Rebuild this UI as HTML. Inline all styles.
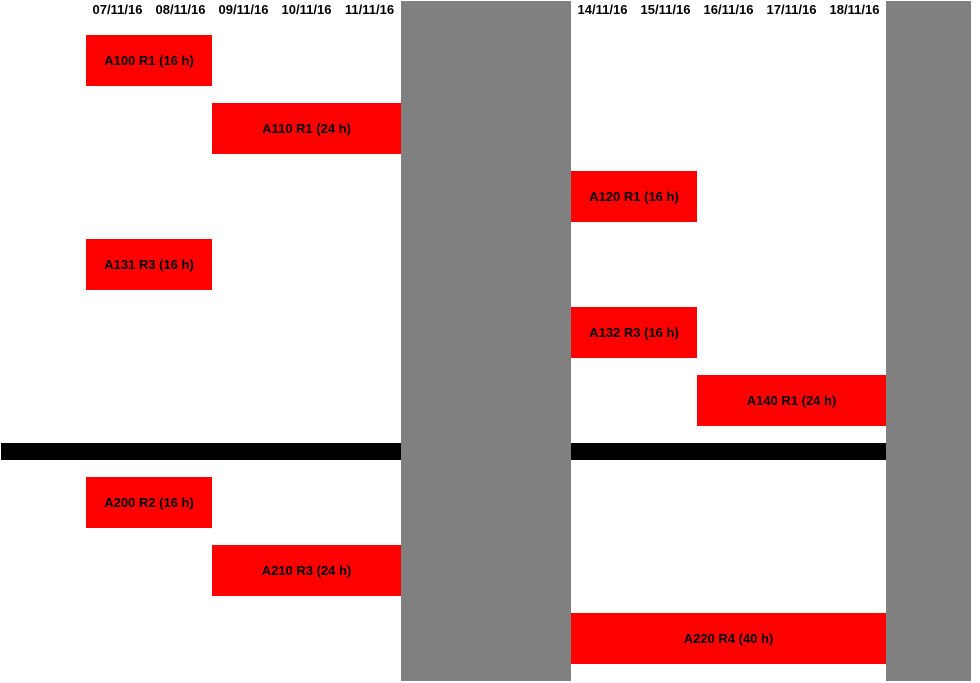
<!DOCTYPE html>
<html><head><style>
body{margin:0;width:980px;height:683px;background:#fff;position:relative;overflow:hidden;font-family:"Liberation Sans",Arial,sans-serif;font-weight:bold;font-size:13px;color:#000}
div{position:absolute}
.g{background:#808080;top:1px;height:680px}
.r{background:#f00;height:51px;display:flex;align-items:center;justify-content:center}
.b{background:#000;top:443px;height:17px}
.d{top:2px;width:63px;text-align:center}
</style></head><body>
<div class="g" style="left:401px;width:170px"></div>
<div class="g" style="left:886px;width:85px"></div>
<div class="b" style="left:1px;width:400px"></div>
<div class="b" style="left:571px;width:315px"></div>
<div class="d" style="left:86px">07/11/16</div>
<div class="d" style="left:149px">08/11/16</div>
<div class="d" style="left:212px">09/11/16</div>
<div class="d" style="left:275px">10/11/16</div>
<div class="d" style="left:338px">11/11/16</div>
<div class="d" style="left:571px">14/11/16</div>
<div class="d" style="left:634px">15/11/16</div>
<div class="d" style="left:697px">16/11/16</div>
<div class="d" style="left:760px">17/11/16</div>
<div class="d" style="left:823px">18/11/16</div>
<div class="r" style="left:86px;top:35px;width:126px">A100 R1 (16 h)</div>
<div class="r" style="left:212px;top:103px;width:189px">A110 R1 (24 h)</div>
<div class="r" style="left:571px;top:171px;width:126px">A120 R1 (16 h)</div>
<div class="r" style="left:86px;top:239px;width:126px">A131 R3 (16 h)</div>
<div class="r" style="left:571px;top:307px;width:126px">A132 R3 (16 h)</div>
<div class="r" style="left:697px;top:375px;width:189px">A140 R1 (24 h)</div>
<div class="r" style="left:86px;top:477px;width:126px">A200 R2 (16 h)</div>
<div class="r" style="left:212px;top:545px;width:189px">A210 R3 (24 h)</div>
<div class="r" style="left:571px;top:613px;width:315px">A220 R4 (40 h)</div>
</body></html>
